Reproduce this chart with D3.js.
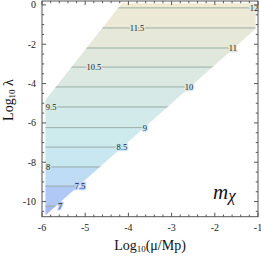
<!DOCTYPE html>
<html><head><meta charset="utf-8">
<script src="https://cdn.jsdelivr.net/npm/d3@7"></script>
<style>body{margin:0;background:#fff}svg{display:block}</style>
</head><body>
<script>
// ---- data ----
const xTicks = [-6, -5, -4, -3, -2, -1];
const yTicks = [0, -2, -4, -6, -8, -10];
// region boundary (log10 mu/Mp, log10 lambda)
const regionX = [-4.15, -1.05, -1.06, -5.92, -5.92];
const regionY = [0.08, 0.08, -1.22, -10.7, -4.83];
// contour levels of m_chi and the log10 lambda where each sits
const levels = [12, 11.5, 11, 10.5, 10, 9.5, 9, 8.5, 8, 7.5, 7];
const levelLambda = [-0.15, -1.17, -2.19, -3.16, -4.17, -5.19, -6.24, -7.23, -8.24, -9.21, -10.23];
// label position along each contour (log10 mu/Mp)
const labelX = [-1.09, -3.80, -1.58, -4.80, -2.60, -5.79, -3.62, -4.15, -5.86, -5.12, -5.58];
// band colours: above first contour, then each band below
const bandColors = ["#f0ebd3", "#ece9d6", "#e6e8da", "#e0e8de", "#dbe9e2", "#d6e9e6", "#d2eaea", "#cdeaed", "#c8e7f0", "#bedcf5", "#b0c8f6", "#a6b8f6"];

const W = 261, H = 256;
const svg = d3.select("body").append("svg").attr("width", W).attr("height", H);
const x = d3.scaleLinear().domain([-6, -1]).range([42, 258]);
const y = d3.scaleLinear().domain([-10.77, 0.2]).range([216.7, 1]);

const pts = regionX.map((v, i) => [x(v), y(regionY[i])]);
svg.append("clipPath").attr("id", "reg").append("polygon").attr("points", pts.map(p => p.join(",")).join(" "));
const g = svg.append("g").attr("clip-path", "url(#reg)");

const bounds = [0.2, ...levelLambda, -10.77];
bandColors.forEach((c, i) => {
  g.append("rect").attr("x", x(-6)).attr("width", x(-1) - x(-6))
    .attr("y", y(bounds[i])).attr("height", y(bounds[i + 1]) - y(bounds[i]))
    .attr("fill", c);
});
levelLambda.forEach(l => {
  g.append("line").attr("x1", x(-6)).attr("x2", x(-1)).attr("y1", y(l)).attr("y2", y(l))
    .attr("stroke", "#93a59e").attr("stroke-width", 0.9);
});
// contour labels
levels.forEach((lv, i) => {
  const bg = d3.interpolateRgb(bandColors[i], bandColors[i + 1])(0.5);
  svg.append("text").attr("x", x(labelX[i])).attr("y", y(levelLambda[i]) + 3)
    .attr("text-anchor", "middle").attr("font-family", "Liberation Serif, serif")
    .attr("font-size", 8.5).attr("fill", "#222")
    .attr("stroke", bg).attr("stroke-width", 2.5).attr("paint-order", "stroke")
    .text(lv);
});

// frame
const frame = svg.append("g");
frame.append("rect").attr("x", x(-6)).attr("y", y(0.2)).attr("width", x(-1) - x(-6))
  .attr("height", y(-10.77) - y(0.2)).attr("fill", "none").attr("stroke", "#555").attr("stroke-width", 1);
const xt0 = y(-10.77), xt1 = y(0.2), yl0 = x(-6), yl1 = x(-1);
d3.range(-6, -0.99, 0.2).forEach(v => {
  const major = Math.abs(v - Math.round(v)) < 1e-6;
  const L = major ? 4 : 2.2;
  frame.append("line").attr("x1", x(v)).attr("x2", x(v)).attr("y1", xt0).attr("y2", xt0 - L).attr("stroke", "#555");
  frame.append("line").attr("x1", x(v)).attr("x2", x(v)).attr("y1", xt1).attr("y2", xt1 + L).attr("stroke", "#555");
});
d3.range(-10.5, 0.21, 0.5).forEach(v => {
  const major = Math.abs(v / 2 - Math.round(v / 2)) < 1e-6;
  const L = major ? 4 : 2.2;
  frame.append("line").attr("y1", y(v)).attr("y2", y(v)).attr("x1", yl0).attr("x2", yl0 + L).attr("stroke", "#555");
  frame.append("line").attr("y1", y(v)).attr("y2", y(v)).attr("x1", yl1).attr("x2", yl1 - L).attr("stroke", "#555");
});
const font = "Liberation Serif, Times New Roman, serif";
xTicks.forEach(v => {
  svg.append("text").attr("x", x(v)).attr("y", 231).attr("text-anchor", "middle")
    .attr("font-family", font).attr("font-size", 10).attr("fill", "#222").text(v);
});
yTicks.forEach(v => {
  svg.append("text").attr("x", 36).attr("y", y(v) + 3.5).attr("text-anchor", "end")
    .attr("font-family", font).attr("font-size", 10).attr("fill", "#222").text(v);
});
// axis labels
const xl = svg.append("text").attr("x", 150).attr("y", 250).attr("text-anchor", "middle")
  .attr("font-family", font).attr("font-size", 14).attr("fill", "#111");
xl.append("tspan").text("Log");
xl.append("tspan").attr("font-size", 9).attr("dy", 2).text("10");
xl.append("tspan").attr("dy", -2).text("(μ/Mp)");
const yl = svg.append("text").attr("transform", "translate(13,100) rotate(-90)").attr("text-anchor", "middle")
  .attr("font-family", font).attr("font-size", 14).attr("fill", "#111");
yl.append("tspan").text("Log");
yl.append("tspan").attr("font-size", 9).attr("dy", 2).text("10");
yl.append("tspan").attr("dy", -2).text(" λ");
// m_chi label
const m = svg.append("text").attr("x", 213).attr("y", 199)
  .attr("font-family", font).attr("font-style", "italic").attr("font-size", 21).attr("fill", "#111");
m.append("tspan").text("m");
m.append("tspan").attr("font-size", 17).attr("dy", 2).text("χ");
</script>
</body></html>
